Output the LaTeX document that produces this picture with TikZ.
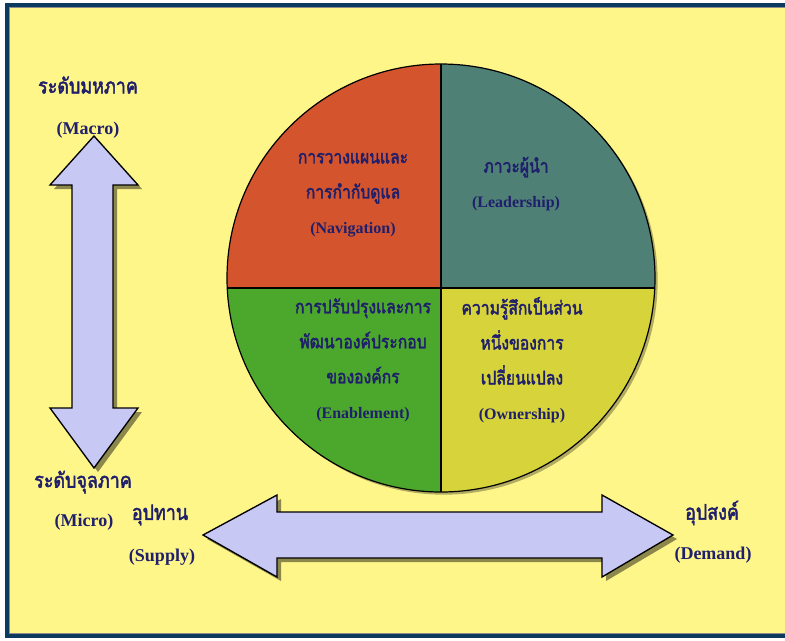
\documentclass[tikz,border=0pt]{standalone}
\usepackage{fontspec}
\setmainfont{Liberation Serif}
\newfontfamily\thaifont[Script=Thai, FakeStretch=0.84, AutoFakeBold=2.2]{Loma}
\usetikzlibrary{shadows}

\definecolor{paper}{HTML}{FFF68A}
\definecolor{framenavy}{HTML}{0B3A5E}
\definecolor{ink}{HTML}{1F1F6B}
\definecolor{arrowfill}{HTML}{C8C8F5}
\definecolor{navred}{HTML}{D4542E}
\definecolor{leadteal}{HTML}{4E8076}
\definecolor{enabgreen}{HTML}{4CA82C}
\definecolor{ownyellow}{HTML}{D6D43A}

\begin{document}
\begin{tikzpicture}[
    x=0.75pt, y=-0.75pt,
    frame/.style={draw=framenavy, line width=2.4pt, fill=paper},
    bigarrow/.style={draw=black, line width=1pt, fill=arrowfill, drop shadow={shadow xshift=3pt, shadow yshift=-3pt, opacity=0.45, fill=black}},
    thai/.style={text=ink, font=\thaifont\bfseries\fontsize{16}{19}\selectfont},
    latin/.style={text=ink, font=\bfseries\fontsize{13.5}{16}\selectfont},
    quadtext/.style={text=ink, align=center, font=\thaifont\bfseries\fontsize{14}{26.25}\selectfont}
]
\useasboundingbox (0,0) rectangle (785,640);

% กรอบ
\draw[frame] (7,5) rectangle (795,636);
\draw[black!45, line width=0.5pt] (9.5,7.5) rectangle (795,633.5);

% วงกลมสี่ส่วน
\coordinate (ctr) at (441,278);
\coordinate (cross) at (441,288);
\path[fill=white, drop shadow={shadow xshift=2pt, shadow yshift=-2pt, opacity=0.3, fill=black}] (ctr) circle [radius=160.5pt];
\begin{scope}
  \clip (ctr) circle [radius=160.5pt];
  \fill[navred] (200,40) rectangle (cross);
  \fill[leadteal] (cross) rectangle (680,40);
  \fill[enabgreen] (200,520) rectangle (cross);
  \fill[ownyellow] (cross) rectangle (680,520);
\end{scope}
\draw[line width=0.9pt] (ctr) circle [radius=160.5pt];
\draw[line width=0.8pt] (441,64) -- (441,492);
\draw[line width=0.8pt] (227.2,288) -- (654.8,288);

% ลูกศร
\draw[bigarrow] (94,136) -- (138,185) -- (113,185) -- (113,408) -- (138,408) -- (94,468)
  -- (50,408) -- (72,408) -- (72,185) -- (50,185) -- cycle;
\draw[bigarrow] (203,535) -- (277,495) -- (277,512) -- (602,512) -- (602,495) -- (673,535)
  -- (602,577) -- (602,558) -- (277,558) -- (277,577) -- cycle;

% ข้อความในวงกลม
\node[quadtext] (nav) at (353,195) {การวางแผนและ\\การกำกับดูแล\\{\rmfamily\fontsize{12}{26.25}\selectfont (Navigation)}};
\node[quadtext] (lead) at (516,184) {ภาวะผู้นำ\\{\rmfamily\fontsize{12}{26.25}\selectfont (Leadership)}};
\node[quadtext] (enab) at (363,360) {การปรับปรุงและการ\\พัฒนาองค์ประกอบ\\ขององค์กร\\{\rmfamily\fontsize{12}{26.25}\selectfont (Enablement)}};
\node[quadtext] (own) at (522,360) {ความรู้สึกเป็นส่วน\\หนึ่งของการ\\เปลี่ยนแปลง\\{\rmfamily\fontsize{12}{26.25}\selectfont (Ownership)}};

% ป้ายกำกับแกน
\node[thai] (macro-th) at (88,85) {ระดับมหภาค};
\node[latin] (macro-en) at (88,130) {(Macro)};
\node[thai] (micro-th) at (83,482) {ระดับจุลภาค};
\node[latin] (micro-en) at (84,522) {(Micro)};
\node[thai] (supply-th) at (160,515) {อุปทาน};
\node[latin] (supply-en) at (162,557) {(Supply)};
\node[thai] (demand-th) at (712,513) {อุปสงค์};
\node[latin] (demand-en) at (713,555) {(Demand)};
\end{tikzpicture}
\end{document}
